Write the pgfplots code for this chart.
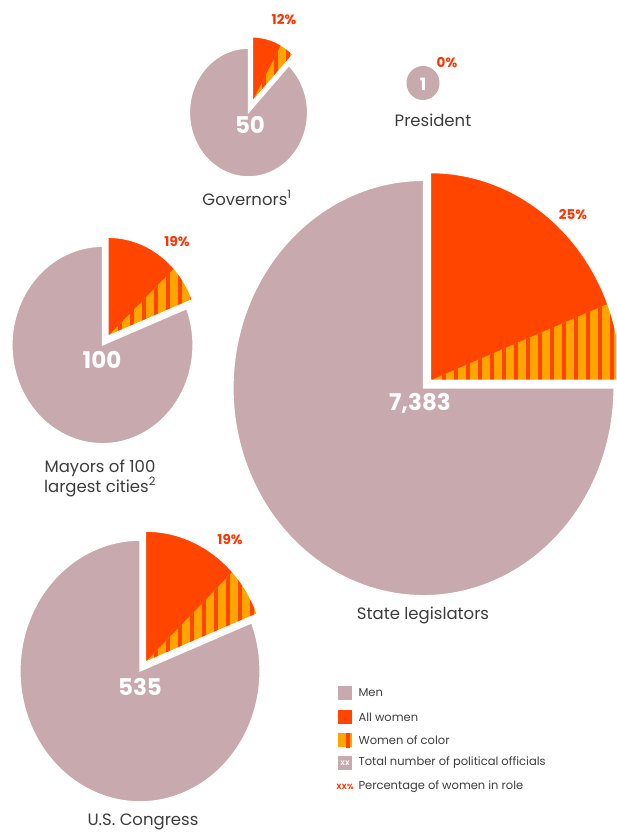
\documentclass[border=0pt]{standalone}
\usepackage{pgfplots}
\pgfplotsset{compat=1.18}
\usepackage{fontspec}
\setmainfont{Poppins}
\usetikzlibrary{patterns.meta}
\definecolor{men}{HTML}{C8A9AD}
\definecolor{women}{HTML}{FF4500}
\definecolor{woc}{HTML}{FFA500}
\definecolor{pct}{HTML}{FF3300}
\definecolor{txt}{HTML}{3C3C3C}
\def\yk{1.09}
% #1 cx, #2 cy (px, downwards), #3 radius, #4 explode offset, #5 share of women, #6 share of women of colour
\newcommand\pie[6]{%
  \pgfmathsetmacro\aW{90-360*#5}%
  \pgfmathsetmacro\aM{450-360*#5}%
  \pgfmathsetmacro\aC{90-360*#5+360*#6}%
  \pgfmathsetmacro\bis{90-180*#5}%
  \pgfmathsetmacro\ox{#1+#4*cos(\bis)}%
  \pgfmathsetmacro\oy{#2-\yk*#4*sin(\bis)}%
  \edef\doit{%
    \noexpand\addplot[fill=men, draw=white, line width=1.2pt, domain=90:\aM, samples=150]
      ({#1+#3*cos(x)},{#2-\yk*#3*sin(x)}) -- (axis cs:#1,#2) -- cycle;
    \noexpand\addplot[fill=women, draw=none, domain=\aW:90, samples=80]
      ({\ox+#3*cos(x)},{\oy-\yk*#3*sin(x)}) -- (axis cs:\ox,\oy) -- cycle;
    \noexpand\addplot[fill=woc, draw=none, postaction={pattern={Lines[angle=90,distance=12pt,line width=4.5pt]}, pattern color=women}, domain=\aW:\aC, samples=40]
      ({\ox+#3*cos(x)},{\oy-\yk*#3*sin(x)}) -- (axis cs:\ox,\oy) -- cycle;
    \noexpand\addplot[fill=none, draw=white, line width=1.2pt, domain=\aW:90, samples=80]
      ({\ox+#3*cos(x)},{\oy-\yk*#3*sin(x)}) -- (axis cs:\ox,\oy) -- cycle;
  }\doit}
\begin{document}
\begin{tikzpicture}
\begin{axis}[
  width=616pt, height=834pt, scale only axis,
  xmin=0, xmax=616, ymin=0, ymax=834, y dir=reverse,
  hide axis,
]
% pies: cx cy r offset women woc
\pie{248.5}{112.5}{59}{11}{0.12}{0.04}
\pie{102.5}{345}{90.5}{10}{0.19}{0.06}
\pie{423.5}{388}{190.5}{10}{0.25}{0.06}
\pie{140}{671}{120}{10}{0.19}{0.061}
% president
\addplot[fill=men, draw=none, domain=0:360, samples=60] ({423+16.5*cos(x)},{83-17*sin(x)}) -- cycle;

\tikzset{pl/.style={font=\bfseries\fontsize{13.5}{13.5}\selectfont, text=pct},
         tot/.style={font=\bfseries\fontsize{23}{23}\selectfont, text=white},
         lab/.style={font=\fontsize{16.5}{19}\selectfont, text=txt, align=center}}
\node[pl] at (axis cs:284,20) {12\%};
\node[tot] at (axis cs:250,125) {50};
\node[lab] at (axis cs:247,198) {Governors\textsuperscript{1}};

\node[font=\bfseries\fontsize{17}{17}\selectfont, text=white] at (axis cs:423,84) {1};
\node[pl] at (axis cs:447,63) {0\%};
\node[lab] at (axis cs:433,120) {President};

\node[pl] at (axis cs:177,242) {19\%};
\node[tot] at (axis cs:102,360) {100};
\node[lab] at (axis cs:100,478) {Mayors of 100\\largest cities\textsuperscript{2}};

\node[pl] at (axis cs:573,215) {25\%};
\node[tot] at (axis cs:420,403) {7,383};
\node[lab] at (axis cs:423,615) {State legislators};

\node[pl] at (axis cs:230,540) {19\%};
\node[tot] at (axis cs:140,687) {535};
\node[lab] at (axis cs:143,822) {U.S. Congress};

% legend
\tikzset{sw/.style={minimum width=14pt, minimum height=14pt, inner sep=0pt},
         lt/.style={anchor=west, font=\fontsize{11.5}{11.5}\selectfont, text=txt}}
\node[sw, fill=men] at (axis cs:345,693) {};
\node[lt] at (axis cs:355,693) {Men};
\node[sw, fill=women] at (axis cs:345,717) {};
\node[lt] at (axis cs:355,717) {All women};
\node[sw, fill=woc, postaction={pattern={Lines[angle=90,distance=12pt,line width=4.5pt]}, pattern color=women}] at (axis cs:345,740) {};
\node[lt] at (axis cs:355,740) {Women of color};
\node[sw, fill=men, text=white, font=\bfseries\fontsize{6.5}{6.5}\selectfont] at (axis cs:345,763) {XX};
\node[lt] at (axis cs:355,763) {Total number of political officials};
\node[text=pct, font=\bfseries\fontsize{7.5}{7.5}\selectfont, inner sep=0pt] at (axis cs:345,787) {XX\%};
\node[lt] at (axis cs:355,787) {Percentage of women in role};
\end{axis}
\pgfresetboundingbox
\useasboundingbox (current axis.south west) rectangle (current axis.north east);
\end{tikzpicture}
\end{document}
